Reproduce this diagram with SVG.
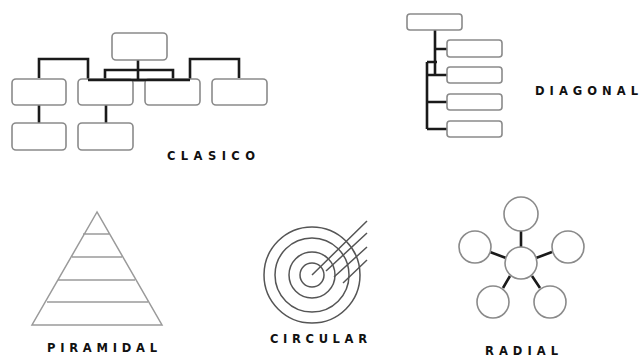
<svg xmlns="http://www.w3.org/2000/svg" width="642" height="358" viewBox="0 0 642 358">
<style>
.box{fill:#fff;stroke:#8a8a8a;stroke-width:1.6}
.con{fill:none;stroke:#1a1a1a;stroke-width:2.6;stroke-linejoin:miter}
.thin{fill:none;stroke:#9a9a9a;stroke-width:1.5}
.ring{fill:none;stroke:#555;stroke-width:1.5}
.lbl{font-family:"DejaVu Sans",sans-serif;font-weight:bold;font-size:11.5px;fill:#111}
</style>
<rect width="642" height="358" fill="#fff"/>
<!-- CLASICO -->
<g id="clasico-connectors">
<path class="con" d="M138,60 V80 M105,80 V70 H173 V80 M39,78 V59 H88 V80 H190 V59 H239 V78 M39,105 V123 M106,105 V123"/>
</g>
<g id="c-top"><rect class="box" x="112" y="33" width="55" height="27" rx="4"/></g>
<g id="c-1"><rect class="box" x="12" y="79" width="54" height="26" rx="4"/></g>
<g id="c-2"><rect class="box" x="78" y="79" width="55" height="26" rx="4"/></g>
<g id="c-3"><rect class="box" x="145" y="79" width="55" height="26" rx="4"/></g>
<g id="c-4"><rect class="box" x="212" y="79" width="55" height="26" rx="4"/></g>
<g id="c-5"><rect class="box" x="12" y="123" width="54" height="27" rx="4"/></g>
<g id="c-6"><rect class="box" x="78" y="123" width="55" height="27" rx="4"/></g>
<path class="con" d="M88,80 H190"/>
<text class="lbl" x="167" y="160" textLength="88" lengthAdjust="spacing">CLASICO</text>
<!-- DIAGONAL -->
<g id="diagonal-connectors">
<path class="con" d="M435,30 V75 M435,49 H447 M427,62 H437 M427,62 V129 M427,75 H447 M427,102 H447 M427,129 H447"/>
</g>
<g id="d-top"><rect class="box" x="407" y="14" width="55" height="16" rx="3"/></g>
<g id="d-1"><rect class="box" x="447" y="40" width="55" height="17" rx="3"/></g>
<g id="d-2"><rect class="box" x="447" y="67" width="55" height="16" rx="3"/></g>
<g id="d-3"><rect class="box" x="447" y="94" width="55" height="16" rx="3"/></g>
<g id="d-4"><rect class="box" x="447" y="121" width="55" height="16" rx="3"/></g>
<text class="lbl" x="535" y="95" textLength="103" lengthAdjust="spacing">DIAGONAL</text>
<!-- PIRAMIDAL -->
<g id="piramidal">
<path class="thin" d="M97,212 L32,325 H162 Z M83,234 H110 M72,257 H122 M58,280 H135 M47,302 H148"/>
</g>
<text class="lbl" x="47" y="352" textLength="110" lengthAdjust="spacing">PIRAMIDAL</text>
<!-- CIRCULAR -->
<g id="circular">
<circle class="ring" cx="312" cy="275" r="48"/>
<circle class="ring" cx="312" cy="275" r="37"/>
<circle class="ring" cx="312" cy="275" r="23"/>
<circle class="ring" cx="312" cy="275" r="12"/>
<path class="ring" d="M312,275 L367,221 M326,271 L367,233 M334,277 L367,247 M343,283 L367,260"/>
</g>
<text class="lbl" x="270" y="343" textLength="97" lengthAdjust="spacing">CIRCULAR</text>
<!-- RADIAL -->
<g id="radial-connectors">
<path class="con" d="M521,231 V247 M490,252 L506,258 M552,252 L536,258 M503,288 L510,276 M540,288 L532,276"/>
</g>
<g id="r-center"><circle class="box" cx="521" cy="263" r="16"/></g>
<g id="r-top"><circle class="box" cx="521" cy="214" r="17"/></g>
<g id="r-left"><circle class="box" cx="475" cy="247" r="16"/></g>
<g id="r-right"><circle class="box" cx="568" cy="247" r="16"/></g>
<g id="r-bl"><circle class="box" cx="493" cy="302" r="16"/></g>
<g id="r-br"><circle class="box" cx="550" cy="302" r="16"/></g>
<text class="lbl" x="485" y="355" textLength="73" lengthAdjust="spacing">RADIAL</text>
</svg>
